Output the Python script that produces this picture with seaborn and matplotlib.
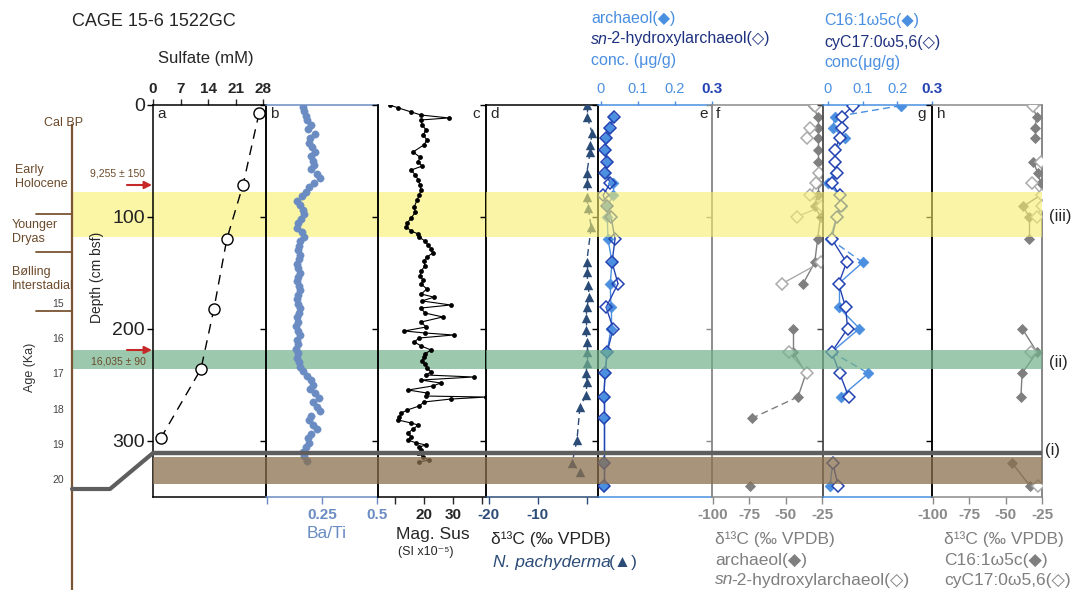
import matplotlib
matplotlib.use("Agg")
import matplotlib.pyplot as plt
import numpy as np
import seaborn as sns

nan = np.nan

# ---------------- data ----------------
sulfate_depth = [7.6, 71.9, 120.0, 182.6, 236.2, 297.8]
sulfate_mM = [27.0, 22.9, 18.8, 15.5, 12.2, 2.0]

bati_depth = [2, 6, 10, 14, 18, 22, 26, 30, 34, 38, 42, 46, 50, 54, 58, 62, 66, 70, 74, 78,
              82, 86, 90, 94, 98, 102, 106, 110, 114, 118, 122, 126, 130, 134, 138, 142, 146, 150, 154, 158,
              162, 166, 170, 174, 178, 182, 186, 190, 194, 198, 202, 206, 210, 214, 218, 222, 226, 230, 234, 238,
              242, 246, 250, 254, 258, 262, 266, 270, 274, 278, 282, 286, 290, 294, 298, 302, 306, 310, 314, 318]
ba_ti = [0.165, 0.17, 0.175, 0.18, 0.2, 0.185, 0.22, 0.195, 0.19, 0.205,
         0.22, 0.2, 0.21, 0.215, 0.2, 0.225, 0.24, 0.215, 0.19, 0.175,
         0.16, 0.135, 0.15, 0.165, 0.17, 0.155, 0.14, 0.135, 0.16, 0.17,
         0.15, 0.145, 0.14, 0.15, 0.145, 0.135, 0.14, 0.15, 0.14, 0.135,
         0.145, 0.15, 0.14, 0.135, 0.14, 0.15, 0.145, 0.135, 0.14, 0.13,
         0.14, 0.15, 0.135, 0.14, 0.13, 0.14, 0.135, 0.145, 0.15, 0.165,
         0.18, 0.2, 0.21, 0.195, 0.22, 0.235, 0.21, 0.225, 0.24, 0.2,
         0.19, 0.21, 0.225, 0.2, 0.185, 0.19, 0.175, 0.165, 0.17, 0.18]

mag_depth = [0.5, 3, 6.7, 9.4, 12, 13.8, 18, 22.8, 27, 31.7,
             36, 42.4, 47, 51, 55, 58.5, 63, 67.4, 72, 76.3,
             80.8, 85.3, 91.5, 96, 101.3, 105.8, 109.4, 113, 115.6, 118.3,
             121.9, 125.4, 129, 132.6, 136.2, 139.7, 144.2, 148.7, 153, 156.7,
             160.3, 164.7, 169.2, 172, 175.4, 179, 181.7, 186.2, 189.7, 194.2,
             198.7, 202.2, 204, 205.8, 208.5, 212, 215.6, 219.2, 222.8, 225.4,
             229, 231.7, 235.3, 238.8, 241.5, 243.3, 246, 248.7, 251.3, 254.9,
             257.6, 260.3, 261.2, 263, 265.6, 269.2, 272.8, 275.4, 279, 281.7,
             284.4, 286.2, 289.7, 293.3, 296.9, 299.6, 302.2, 304, 305.8, 308.5,
             311.2, 314.7, 317.4, 319.2]
mag_sus = [8.1, 11.1, 15.6, 19.0, 28.5, 19.0, 19.3, 20.7, 19.7, 21.0,
           20.0, 16.2, 18.6, 18.0, 19.3, 15.6, 17.0, 18.0, 18.6, 19.0,
           18.3, 17.6, 16.6, 17.0, 15.6, 14.2, 13.9, 15.6, 18.0, 18.3,
           20.3, 21.4, 22.4, 23.0, 21.0, 20.0, 20.3, 19.0, 18.6, 19.7,
           19.0, 21.0, 19.0, 23.4, 19.3, 29.2, 19.0, 20.3, 26.5, 19.0,
           20.7, 13.2, 20.3, 30.2, 18.3, 16.6, 19.0, 22.4, 20.3, 20.0,
           19.3, 20.3, 21.0, 22.4, 20.7, 37.1, 19.0, 25.8, 23.0, 14.5,
           21.0, 20.7, 41.5, 29.2, 20.0, 18.3, 14.2, 12.2, 11.5, 11.1,
           15.6, 18.0, 16.2, 14.5, 15.6, 14.5, 17.3, 20.7, 18.3, 19.0,
           18.0, 19.7, 21.7, 18.3]

pachy_depth = [0.5, 11.2, 25.4, 36.2, 42.4, 61.2, 70.0, 82.6, 92.4, 109.4, 140.6, 149.6, 161.2, 171.9,
               180.8, 190.6, 201.3, 212.0, 220.9, 230.8, 239.7, 247.8, 259.4, 270.1, 299.6, 320.1, 328.1]
pachy_d13c = [0.1, 0.1, 1.1, 0.7, 0.7, 0.0, 0.0, 0.0, 0.3, 0.9, 0.0, 0.0, 0.3, 0.5,
              0.0, -0.1, -0.1, 0.0, 0.0, 0.0, -0.1, 0.0, -0.1, -1.4, -2.0, -3.0, -1.4]

bio_depth = [1, 11, 21, 30, 41, 51, 61, 70, 81, 91, 100, 120, 141, 160, 181, 200, 221, 240, 261, 280, 320, 341]
archaeol_conc = [nan, 0.034, 0.024, 0.015, 0.012, 0.017, 0.012, 0.034, 0.034, 0.018, 0.018,
                 0.020, 0.031, 0.026, 0.028, 0.028, 0.018, 0.012, 0.009, 0.009, 0.009, 0.009]
ohar_conc = [nan, 0.036, 0.026, 0.015, 0.013, 0.018, 0.013, 0.026, 0.007, 0.018, 0.028,
             0.039, 0.031, 0.047, 0.015, 0.034, 0.018, 0.012, 0.009, 0.009, 0.009, 0.009]
archaeol_d13c = [-31, -28, -28, -28, -28, -28, -26, -28, -28, -30, -26,
                 -28, -30, -38, nan, -45, -45, -36, -41.5, -73, nan, -74.5]
ohar_d13c = [-30, nan, -33, -35, nan, nan, -27, -29, -33, -25, -42,
             nan, -26, -52.5, nan, nan, -48, -35, nan, nan, nan, nan]
c16_conc = [0.21, 0.02, 0.015, 0.05, 0.02, 0.022, 0.022, 0.0, 0.034, 0.04, 0.026,
            0.006, 0.10, 0.031, 0.031, 0.091, 0.011, 0.117, 0.037, nan, 0.014, 0.006]
cy17_conc = [0.072, 0.04, 0.04, 0.034, 0.02, 0.022, 0.026, 0.011, 0.034, 0.037, 0.026,
             0.011, 0.054, 0.031, 0.051, 0.057, 0.011, 0.034, 0.06, nan, 0.014, 0.03]
c16_d13c = [-32, -28.5, -30, -30, nan, -31, -28, -26, -26, -38, -34,
            -34, nan, nan, nan, -38.7, -28.5, -38.7, -39.5, nan, -45.6, -33]
cy17_d13c = [-31, nan, nan, nan, nan, -26, nan, -32, -25, -25, -28.5,
             nan, nan, nan, nan, nan, -32.5, nan, nan, nan, nan, -27.5]

# depth intervals of the shaded units (cm bsf)
younger_dryas = [78.3, 118.0]
unit_ii = [219.3, 236.3]
unit_i = [314.3, 338.5]
unit_i_top = 311.5

age_ticks = [15, 16, 17, 18, 19, 20]

# ---------------- style ----------------
sns.set_style("white")
plt.rcParams['font.family'] = ['Liberation Sans', 'DejaVu Sans']

W, H = 1072, 590
TOP, BOT = 104.5, 496.5
DMAX = 350

BATI = '#6a8cc2'
PACHY = '#2c4c78'
LBLUE = '#4a8fe0'
DBLUE = '#2443b3'
NAVY = '#1f3280'
GREY = '#8a8a8a'
GREY_F = '#7f7f7f'
GREY_O = '#ababab'
BROWN = '#7a5533'
BROWN_TXT = '#6b4a2b'

fig = plt.figure(figsize=(W / 100, H / 100), dpi=100)


def rect(x0, x1, y0=TOP, y1=BOT):
    return [x0 / W, 1 - y1 / H, (x1 - x0) / W, (y1 - y0) / H]


# background bands (behind data)
ax_bg = fig.add_axes(rect(72, 1042))
ax_bg.set_zorder(0)
ax_bg.set_xlim(72, 1042)
ax_bg.set_ylim(DMAX, 0)
ax_bg.axis('off')
ax_bg.fill_betweenx(younger_dryas, 72, 486, color='#fbf5a6', lw=0)
ax_bg.fill_betweenx(unit_ii, 72, 486, color='#9cc9ad', lw=0)


def panel(x0, x1, xlim, spines):
    ax = fig.add_axes(rect(x0, x1))
    ax.set_zorder(1)
    ax.patch.set_visible(False)
    for side, c in spines.items():
        if c is None:
            ax.spines[side].set_visible(False)
        else:
            ax.spines[side].set_color(c)
            ax.spines[side].set_linewidth(1.1)
    ax.set_yticks([0, 100, 200, 300])
    ax.tick_params(axis='y', direction='out', length=4, width=1, left=True, right=False,
                   labelleft=False, color=spines['left'])
    ax.tick_params(axis='x', direction='out', length=4, width=1, bottom=False, top=False)
    ax._xl = xlim
    return ax


def finish(ax):
    ax.set_xlim(*ax._xl)
    ax.set_ylim(DMAX, 0)
    ax.set_xlabel('')
    ax.set_ylabel('')


def seg_line(ax, xs, ys, color, lw=1.0, dashed=(), alld=False):
    for i in range(len(xs) - 1):
        if np.isnan(xs[i]) or np.isnan(xs[i + 1]):
            continue
        ls = (0, (5, 3)) if (alld or i in dashed) else '-'
        ax.plot(xs[i:i + 2], ys[i:i + 2], color=color, lw=lw, ls=ls, zorder=2)


# --- a: sulfate
ax_a = panel(153, 266, (0, 28.76), dict(left='k', right='k', top='k', bottom='k'))
ax_a.plot(sulfate_mM, sulfate_depth, color='k', lw=1, ls=(0, (7, 5)), zorder=2)
sns.scatterplot(x=sulfate_mM, y=sulfate_depth, ax=ax_a, color='white', edgecolor='black',
                s=64, linewidth=1, zorder=3)
ax_a.xaxis.tick_top()
ax_a.set_xticks([0, 7, 14, 21, 28])
ax_a.set_xticklabels(['0', '7', '14', '21', '28'], fontweight='bold', fontsize=11)
ax_a.tick_params(axis='x', top=True, direction='out', length=4, pad=2)
ax_a.set_yticklabels(['0', '100', '200', '300'])
ax_a.tick_params(axis='y', labelleft=True, labelsize=14, pad=2, labelcolor='#222222')
finish(ax_a)
ax_a.xaxis.tick_top()

# --- b: Ba/Ti
ax_b = panel(266, 378, (-0.005, 0.505), dict(left='k', right='k', top=BATI, bottom=BATI))
sns.scatterplot(x=ba_ti, y=bati_depth, ax=ax_b, color=BATI, edgecolor=BATI, s=28, linewidth=0.3,
                zorder=2)
ax_b.set_xticks([0, 0.25, 0.5])
ax_b.set_xticklabels(['', '0.25', '0.5'], fontweight='bold', fontsize=11, color=BATI)
ax_b.tick_params(axis='x', bottom=True, color=BATI, length=5)
finish(ax_b)

# --- c: magnetic susceptibility
ax_c = panel(378, 486, (4.1, 41.4), dict(left='k', right='k', top=None, bottom='k'))
ax_c.plot(mag_sus, mag_depth, color='k', lw=0.8, zorder=2)
sns.scatterplot(x=mag_sus, y=mag_depth, ax=ax_c, color='black', edgecolor='black', s=12,
                linewidth=0, zorder=3)
ax_c.set_xticks([10, 20, 30, 40])
ax_c.set_xticklabels(['', '20', '30', ''], fontweight='bold', fontsize=11)
ax_c.tick_params(axis='x', bottom=True, length=5)
finish(ax_c)

# --- d: N. pachyderma d13C
ax_d = panel(486, 598, (-20.6, 2.3), dict(left='k', right='k', top='k', bottom=PACHY))
seg_line(ax_d, pachy_d13c, pachy_depth, PACHY, lw=1.0, alld=True)
sns.scatterplot(x=pachy_d13c, y=pachy_depth, ax=ax_d, color=PACHY, edgecolor=PACHY, marker='^',
                s=46, linewidth=0, zorder=3)
ax_d.set_xticks([-20, -10, 0])
ax_d.set_xticklabels(['-20', '-10', ''], fontweight='bold', fontsize=11, color=PACHY)
ax_d.tick_params(axis='x', bottom=True, color=PACHY, length=5)
finish(ax_d)


def conc_axis(ax):
    ax.xaxis.tick_top()
    ax.set_xticks([0, 0.1, 0.2, 0.3])
    ax.set_xticklabels(['0', '0.1', '0.2', '0.3'], fontsize=10.5, color=LBLUE)
    lab = ax.get_xticklabels()
    lab[3].set_fontweight('bold')
    lab[3].set_color(DBLUE)
    lab[3].set_fontsize(11)
    ax.tick_params(axis='x', top=True, bottom=False, color=LBLUE, length=3, pad=3)


# --- e: archaeol concentrations
ax_e = panel(598, 712, (-0.007, 0.301), dict(left='k', right=GREY, top=LBLUE, bottom=LBLUE))
seg_line(ax_e, archaeol_conc, bio_depth, LBLUE, lw=1.0)
seg_line(ax_e, ohar_conc, bio_depth, DBLUE, lw=1.0)
sns.scatterplot(x=archaeol_conc, y=bio_depth, ax=ax_e, color=LBLUE, edgecolor=LBLUE, marker='D',
                s=30, linewidth=0.5, zorder=3)
ax_e.plot(ohar_conc, bio_depth, ls='none', marker='D', ms=6.5, mfc='none', mec=DBLUE, mew=1.1, zorder=4)
conc_axis(ax_e)
finish(ax_e)
ax_e.xaxis.tick_top()

# --- f: archaeol d13C
ax_f = panel(712, 823, (-100.7, -24.3), dict(left=GREY, right=GREY, top=GREY, bottom=GREY))
seg_line(ax_f, archaeol_d13c, bio_depth, GREY_F, lw=1.0, dashed=(18,))
seg_line(ax_f, ohar_d13c, bio_depth, GREY_O, lw=1.0)
sns.scatterplot(x=archaeol_d13c, y=bio_depth, ax=ax_f, color=GREY_F, edgecolor=GREY_F, marker='D',
                s=32, linewidth=0, zorder=3)
ax_f.plot(ohar_d13c, bio_depth, ls='none', marker='D', ms=6.5, mfc='white', mec=GREY_O, mew=1.1, zorder=4)
ax_f.set_xticks([-100, -75, -50, -25])
ax_f.set_xticklabels(['-100', '-75', '-50', '-25'], fontweight='bold', fontsize=11, color=GREY)
ax_f.tick_params(axis='x', bottom=True, color=GREY, length=5)
finish(ax_f)

# --- g: PLFA concentrations
ax_g = panel(823, 932, (-0.014, 0.3), dict(left='#444444', right='k', top=LBLUE, bottom=LBLUE))
seg_line(ax_g, c16_conc, bio_depth, LBLUE, lw=1.0, dashed=(0, 11, 16))
seg_line(ax_g, cy17_conc, bio_depth, DBLUE, lw=1.0)
sns.scatterplot(x=c16_conc, y=bio_depth, ax=ax_g, color=LBLUE, edgecolor=LBLUE, marker='D',
                s=30, linewidth=0.5, zorder=3)
ax_g.plot(cy17_conc, bio_depth, ls='none', marker='D', ms=6.5, mfc='white', mec=DBLUE, mew=1.1, zorder=4)
conc_axis(ax_g)
finish(ax_g)
ax_g.xaxis.tick_top()

# --- h: PLFA d13C
ax_h = panel(932, 1042, (-100.7, -25.0), dict(left='k', right='#666666', top=GREY, bottom=GREY))
seg_line(ax_h, c16_d13c, bio_depth, GREY_F, lw=1.0)
seg_line(ax_h, cy17_d13c, bio_depth, GREY_O, lw=1.0)
sns.scatterplot(x=c16_d13c, y=bio_depth, ax=ax_h, color=GREY_F, edgecolor=GREY_F, marker='D',
                s=32, linewidth=0, zorder=3)
ax_h.plot(cy17_d13c, bio_depth, ls='none', marker='D', ms=6.5, mfc='white', mec=GREY_O, mew=1.1, zorder=4)
ax_h.set_xticks([-100, -75, -50, -25])
ax_h.set_xticklabels(['-100', '-75', '-50', '-25'], fontweight='bold', fontsize=11, color=GREY)
ax_h.tick_params(axis='x', bottom=True, color=GREY, length=5)
finish(ax_h)

# overlay bands (on top of data)
ax_ov = fig.add_axes(rect(72, 1042))
ax_ov.set_zorder(2)
ax_ov.patch.set_visible(False)
ax_ov.set_xlim(72, 1042)
ax_ov.set_ylim(DMAX, 0)
ax_ov.axis('off')
ax_ov.fill_betweenx(younger_dryas, 486, 1042, color='#f8ee6b', alpha=0.6, lw=0)
ax_ov.fill_betweenx(unit_ii, 486, 1042, color='#72b28a', alpha=0.7, lw=0)
ax_ov.fill_betweenx(unit_i, 153, 1042, color='#8b704e', alpha=0.75, lw=0)
ax_ov.hlines(unit_i_top, 153, 1042, color='#5e5e5e', lw=3.2)

# age axis
ax_age = fig.add_axes([72 / W, 0, 0.0005, (H - 125) / H])
ax_age.set_zorder(3)
ax_age.patch.set_visible(False)
for s in ['top', 'right', 'bottom']:
    ax_age.spines[s].set_visible(False)
ax_age.spines['left'].set_color(BROWN)
ax_age.spines['left'].set_linewidth(1.6)
ax_age.set_ylim(15 + (H - 303) / 35.2, 15 - (303 - 125) / 35.2)
ax_age.set_yticks(age_ticks)
ax_age.set_yticklabels([str(a) for a in age_ticks])
ax_age.set_xticks([])
ax_age.tick_params(axis='y', direction='out', length=4, width=1, color=BROWN,
                   labelsize=7.5, labelcolor='#444444', pad=2)

# annotation layer in pixel coordinates
ax_px = fig.add_axes([0, 0, 1, 1])
ax_px.set_zorder(4)
ax_px.patch.set_visible(False)
ax_px.set_xlim(0, W)
ax_px.set_ylim(H, 0)
ax_px.axis('off')


def t(x, y, s, **kw):
    kw.setdefault('va', 'center')
    kw.setdefault('fontsize', 12)
    return ax_px.text(x, y, s, **kw)


def chain(prev, s, **kw):
    kw.setdefault('fontsize', prev.get_fontsize())
    return ax_px.annotate(s, xy=(1, 0), xycoords=prev, xytext=(-1.5, 0), textcoords='offset points',
                          va='bottom', ha='left', **kw)


t(72, 22, 'CAGE 15-6 1522GC', fontsize=13)
t(206, 58, 'Sulfate (mM)', ha='center')
t(97, 277, 'Depth (cm bsf)', rotation=90, ha='center', fontsize=10)
t(30, 367, 'Age (Ka)', rotation=90, ha='center', fontsize=9, color='#333333')

# stratigraphy labels
t(64, 123, 'Cal BP', ha='center', fontsize=9, color=BROWN_TXT)
t(15, 177, 'Early\nHolocene', fontsize=9, color=BROWN_TXT, linespacing=1.25)
t(12, 232, 'Younger\nDryas', fontsize=9, color=BROWN_TXT, linespacing=1.25)
t(12, 279, 'Bølling\nInterstadial', fontsize=9, color=BROWN_TXT, linespacing=1.25)
for yy in [214, 252, 311]:
    ax_px.plot([36, 72], [yy, yy], color=BROWN, lw=1.3)
ax_px.plot([72, 110, 153], [489, 489, 453], color='#5e5e5e', lw=3)

t(118, 173, '9,255 ± 150', ha='center', fontsize=7.5, color=BROWN_TXT)
t(118, 362, '16,035 ± 90', ha='center', fontsize=7.5, color=BROWN_TXT)
for yy in [185, 350]:
    ax_px.annotate('', xy=(152, yy), xytext=(127, yy),
                   arrowprops=dict(arrowstyle='-|>', color='#c62828', lw=1.5,
                                   mutation_scale=11, shrinkA=0, shrinkB=0))

# panel letters
for x, s, ha in [(157, 'a', 'left'), (270, 'b', 'left'), (480, 'c', 'right'), (490, 'd', 'left'),
                 (708, 'e', 'right'), (716, 'f', 'left'), (926, 'g', 'right'), (937, 'h', 'left')]:
    t(x, 114, s, ha=ha, fontsize=11)

# unit labels
t(1049, 216, '(iii)')
t(1049, 362, '(ii)')
t(1045, 450, '(i)')

# headers e and g
t(591, 18, 'archaeol(◆)', color=LBLUE, fontsize=11.5)
p = t(591, 39, 'sn', color=NAVY, fontsize=11.5, style='italic')
chain(p, '-2-hydroxylarchaeol(◇)', color=NAVY)
t(591, 60, 'conc. (μg/g)', color=LBLUE, fontsize=11.5)
t(824, 21, 'C16:1ω5c(◆)', color=LBLUE, fontsize=11.5)
t(824, 43, 'cyC17:0ω5,6(◇)', color=NAVY, fontsize=11.5)
t(824, 63, 'conc(μg/g)', color=LBLUE, fontsize=11.5)

# bottom labels
t(327, 534, 'Ba/Ti', ha='center', color=BATI, fontsize=12.5)
t(433, 534, 'Mag. Sus', ha='center', fontsize=12.5)
t(426, 552, '(SI x10⁻⁵)', ha='center', fontsize=9)
t(491, 539, 'δ¹³C (‰ VPDB)', fontsize=12.5)
p = t(493, 562, 'N. pachyderma', color=PACHY, fontsize=12.5, style='italic')
chain(p, '(▲)', color=PACHY)
t(715, 539, 'δ¹³C (‰ VPDB)', fontsize=12.5, color=GREY_F)
t(715, 560, 'archaeol(◆)', fontsize=12.5, color=GREY_F)
p = t(715, 580, 'sn', fontsize=12.5, color=GREY_F, style='italic')
chain(p, '-2-hydroxylarchaeol(◇)', color=GREY_F)
t(944, 539, 'δ¹³C (‰ VPDB)', fontsize=12.5, color=GREY_F)
t(944, 560, 'C16:1ω5c(◆)', fontsize=12.5, color=GREY_F)
t(944, 580, 'cyC17:0ω5,6(◇)', fontsize=12.5, color=GREY_F)

fig.savefig('out.png', dpi=100)
